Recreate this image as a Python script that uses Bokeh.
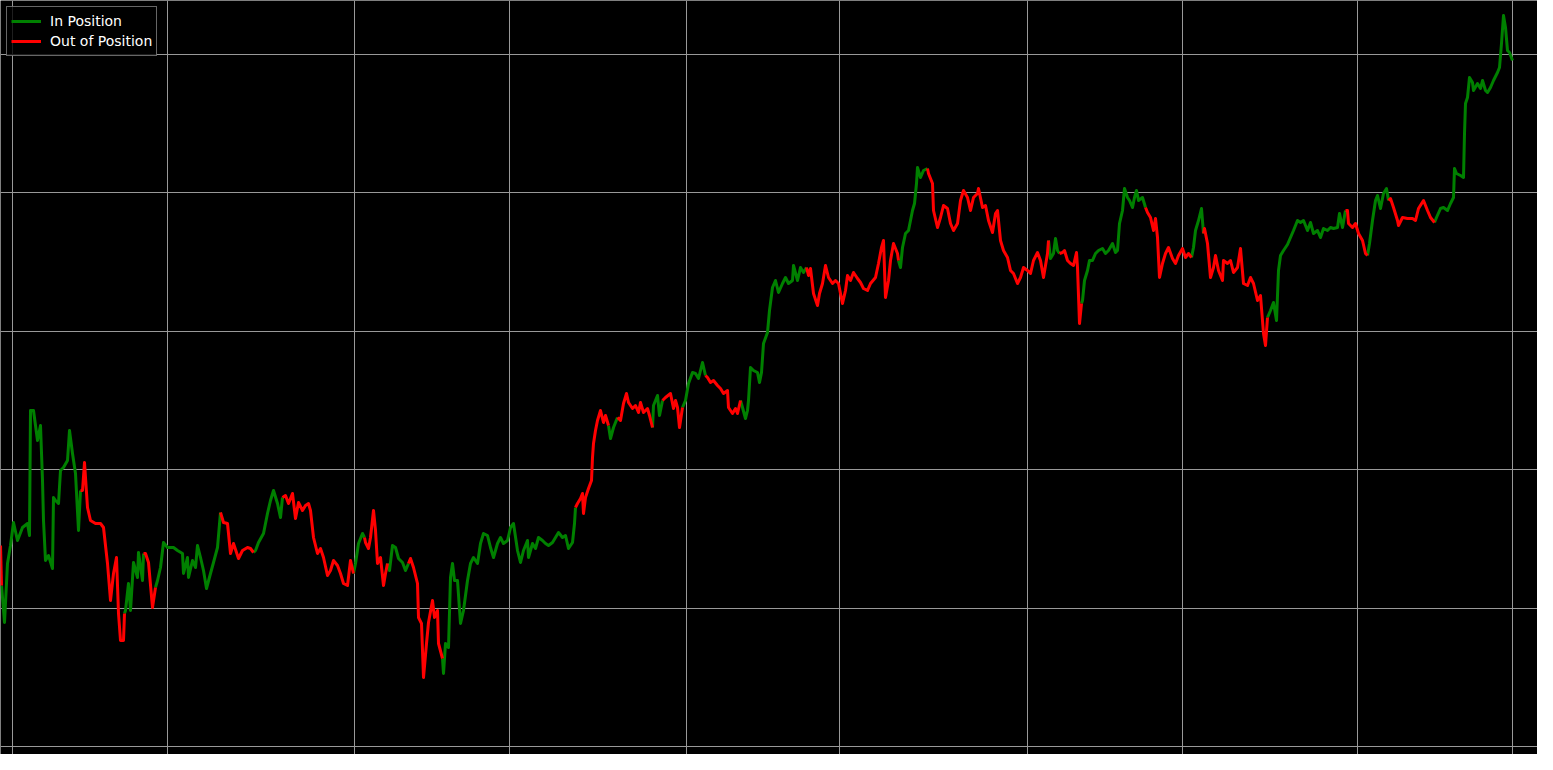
from bokeh.plotting import figure
from bokeh.models import ColumnDataSource, Range1d, FixedTicker
from bokeh.embed import file_html
from bokeh.resources import INLINE

# time index and price
t = [0, 1, 2, 4, 7, 10, 13, 17, 22, 27, 29, 30, 33, 37, 40, 42, 43, 45, 48, 52, 53, 55, 58, 60, 63, 67, 69, 72, 75, 78, 80,
     82, 84, 87, 90, 95, 100, 103, 107, 110, 113, 116, 118, 120, 123, 124,
     125, 128, 130, 133, 137, 138, 142, 143,
     145, 148, 152, 155,
     157, 160, 163, 167, 173, 177, 182, 183, 187, 188, 192, 195, 197, 200, 203, 206, 210, 213, 217, 220,
     223, 227, 230, 233, 238, 242, 247, 250, 253,
     255, 258, 263, 267, 270, 273, 277, 280, 282,
     285, 288, 292, 295, 298, 302, 305, 308, 310, 313, 317, 320, 323, 327, 330, 333, 337, 340, 343, 347, 350, 353,
     355, 358, 362, 364,
     365, 368, 370, 373, 375, 377, 380, 383, 385, 387,
     389, 392, 395, 398, 402, 405, 408,
     410, 413, 417, 418, 421, 423, 426, 428, 432, 434, 437, 438, 442,
     443, 445, 448, 450, 452, 454, 457, 460, 463, 467, 470, 473, 477, 480, 483, 487, 490, 493, 497, 500, 503, 507,
     510, 513, 517, 520, 523, 527, 528, 532, 535, 538, 542, 545, 548, 552, 555, 558, 562, 565, 568, 572, 574, 575,
     577, 580, 582, 583, 585, 588, 591, 592, 593, 595, 597, 600, 603, 605, 608,
     610, 613, 617,
     620, 623, 626, 628, 632, 635, 638, 640, 643, 647, 649, 652,
     653, 657, 659, 662,
     665, 670, 673, 675, 677, 679, 682,
     685, 688, 692, 695, 698, 702, 705,
     707, 710, 713, 717, 720, 723, 727, 728, 732, 735, 737, 740,
     742, 745, 747, 748, 750, 753, 757, 759, 761, 763, 767, 769, 772, 775, 778, 782, 785, 788, 792, 793, 797, 800, 803, 806,
     808, 810, 813, 817, 819, 822, 825, 828, 832, 835, 838, 842, 845, 847, 850, 853, 857, 860, 863, 867, 870, 875, 878,
     881, 883, 885, 888, 890, 893, 897, 898,
     900, 902, 905, 908, 912, 914, 916, 917, 920, 923, 927,
     928, 932, 933, 937, 940, 943, 947, 950, 953, 957, 960, 963, 967, 970, 973, 977, 978, 982, 985, 988, 992, 995, 997,
     1000, 1003, 1007, 1010, 1013, 1017, 1020, 1023, 1027, 1030, 1033, 1037, 1040, 1043, 1047, 1048,
     1050, 1053, 1055, 1057, 1059,
     1062, 1064, 1067, 1070, 1073, 1076, 1077, 1079, 1081,
     1082, 1084, 1087, 1089, 1092, 1095, 1098, 1102, 1105, 1108, 1112, 1115, 1117, 1119, 1122, 1124, 1127, 1129, 1132,
     1134, 1136, 1138, 1142, 1145,
     1147, 1150, 1153, 1155, 1157, 1159, 1162, 1165, 1168, 1172, 1175, 1178, 1182, 1185, 1188, 1191,
     1193, 1195, 1198, 1201, 1203,
     1204, 1207, 1210, 1213, 1215, 1218, 1222, 1223, 1227, 1230, 1233, 1237, 1240, 1243, 1247, 1250, 1253, 1257, 1260,
     1263, 1265, 1267,
     1270, 1273, 1276, 1278, 1280, 1283, 1287, 1290, 1293, 1297, 1300, 1303, 1307, 1310, 1313, 1317, 1320, 1323, 1327,
     1330, 1333, 1337, 1339, 1342, 1345,
     1347, 1348, 1352, 1355, 1358, 1362, 1365, 1367,
     1369, 1372, 1375, 1377, 1380, 1383, 1386, 1388,
     1390, 1393, 1397, 1398, 1402, 1407, 1412, 1415, 1418, 1423, 1427, 1430, 1434,
     1436, 1440, 1443, 1447, 1450, 1453, 1454, 1456, 1460, 1463, 1464, 1465, 1467, 1469, 1472, 1473, 1477, 1480, 1482,
     1485, 1487, 1490, 1493, 1497, 1499, 1501, 1503, 1505, 1507, 1509, 1512]

price = [455, 415, 403, 378, 437, 455, 478, 460, 473, 477, 465, 590, 590, 560, 575, 520, 480, 440, 445, 432, 503, 500, 497, 530, 533, 540, 570, 547, 527, 470, 510,
         510, 538, 493, 480, 477, 477, 473, 437, 400, 427, 443, 387, 360, 360, 387,
         390, 417, 390, 438, 423, 448, 420, 447,
         447, 438, 393, 413,
         420, 433, 458, 453, 453, 450, 447, 427, 443, 423, 440, 433, 455, 443, 430, 412, 427, 438, 453, 488,
         478, 477, 447, 457, 442, 450, 453, 452, 448,
         450, 458, 467, 487, 500, 510, 497, 483, 503,
         505, 497, 507, 482, 498, 490, 495, 497, 490, 463, 447, 452, 443, 425, 430, 440, 435, 427, 417, 415, 440, 427,
         437, 457, 467, 463,
         458, 452, 463, 490, 470, 437, 443, 415, 427, 437,
         430, 455, 453, 442, 438, 430, 437,
         442, 433, 417, 383, 377, 323, 357, 378, 400, 383, 390, 357, 342,
         327, 357, 353, 423, 437, 420, 420, 377, 390, 420, 437, 443, 437, 457, 467, 465, 453, 443, 457, 463, 457, 460,
         473, 477, 450, 438, 450, 460, 443, 457, 452, 463, 460, 457, 455, 458, 463, 468, 463, 465, 452, 458, 477, 493,
         497, 502, 507, 487, 503, 512, 520, 543, 557, 570, 580, 590, 578, 585, 575,
         562, 573, 583,
         580, 597, 607, 598, 592, 595, 588, 598, 588, 592, 585, 573,
         595, 605, 585, 600,
         603, 607, 592, 600, 593, 573, 593,
         600, 617, 628, 627, 622, 638, 625,
         623, 618, 620, 615, 612, 607, 610, 593, 587, 592, 587, 600,
         593, 582, 590, 600, 633, 630, 628, 618, 628, 657, 668, 690, 713, 720, 708, 717, 723, 717, 720, 735, 720, 733, 728, 733,
         725, 732, 707, 695, 707, 717, 735, 723, 717, 720, 717, 697, 710, 725, 720, 728, 722, 718, 712, 710, 717, 723, 737,
         753, 760, 703, 720, 740, 757, 747, 740,
         733, 753, 767, 770, 790, 797, 817, 833, 823, 830, 832,
         827, 817, 790, 773, 783, 795, 792, 777, 770, 777, 800, 810, 803, 790, 803, 807, 812, 793, 795, 780, 768, 787, 790,
         760, 750, 743, 730, 727, 717, 723, 733, 730, 727, 740, 748, 740, 723, 747, 760,
         742, 747, 762, 750, 747,
         748, 750, 740, 737, 735, 748, 733, 677, 697,
         700, 720, 730, 740, 740, 747, 750, 752, 747, 750, 757, 748, 750, 777, 790, 812, 803, 800, 793,
         803, 810, 800, 803, 793,
         788, 783, 770, 782, 763, 723, 737, 747, 753, 742, 737, 745, 752, 743, 747, 743,
         753, 770, 780, 792, 767,
         772, 757, 723, 733, 745, 730, 720, 740, 737, 740, 728, 733, 752, 717, 715, 723, 717, 700, 705,
         667, 655, 683,
         690, 698, 680, 730, 745, 750, 756, 763, 770, 780, 778, 780, 770, 778, 767, 770, 763, 772, 770,
         773, 772, 773, 787, 773, 790,
         790, 777, 773, 777, 767, 760, 747, 745,
         757, 780, 800, 805, 792, 807, 812, 800,
         802, 793, 780, 775, 783, 782, 782, 780, 792, 800, 790, 783, 778,
         783, 792, 793, 790, 797, 803, 832, 827, 825, 823, 867, 897, 903, 923, 918, 910, 917, 912, 920,
         910, 908, 913, 920, 928, 933, 957, 985, 973, 950, 948, 940]

# position changes (time index where the state switches), starts out of position
entries = [2, 125, 157, 255, 355, 389, 443, 610, 653, 685, 742, 900, 1050, 1082, 1193, 1270, 1369, 1436]
exits = [82, 145, 223, 285, 365, 410, 577, 620, 665, 707, 808, 928, 1062, 1147, 1204, 1347, 1390]

# grid positions
x_ticks = [12.3, 167, 354.3, 508.7, 685.7, 839.3, 1026.7, 1181.7, 1357.3, 1511.5]
y_ticks = [254, 392.5, 531, 669.5, 807.7, 946.3]

# work out in/out of position for every point
events = sorted([(e, True) for e in entries] + [(e, False) for e in exits])
state = []
for ti in t:
    s = False
    for et, flag in events:
        if et <= ti:
            s = flag
    state.append(s)

# split into runs of one colour, each run joined to the previous point
runs = {True: ([], []), False: ([], [])}
cur_x, cur_y = [t[0]], [price[0]]
cur_s = state[0]
for i in range(1, len(t)):
    if state[i] != cur_s:
        runs[cur_s][0].append(cur_x)
        runs[cur_s][1].append(cur_y)
        cur_x, cur_y = [t[i - 1]], [price[i - 1]]
        cur_s = state[i]
    cur_x.append(t[i])
    cur_y.append(price[i])
runs[cur_s][0].append(cur_x)
runs[cur_s][1].append(cur_y)

in_src = ColumnDataSource(data=dict(xs=runs[True][0], ys=runs[True][1]))
out_src = ColumnDataSource(data=dict(xs=runs[False][0], ys=runs[False][1]))

p = figure(width=1537, height=754, output_backend="svg", toolbar_location=None,
           x_range=Range1d(0, 1537), y_range=Range1d(246, 1000),
           x_axis_location=None, y_axis_location=None, min_border=0)
p.background_fill_color = "black"
p.border_fill_color = "black"
p.outline_line_color = None

p.xgrid.ticker = FixedTicker(ticks=x_ticks)
p.ygrid.ticker = FixedTicker(ticks=y_ticks)
p.grid.grid_line_color = "#999999"
p.grid.grid_line_width = 1

p.multi_line('xs', 'ys', source=in_src, line_color="#008000", line_width=3,
             line_join="round", legend_label="In Position")
p.multi_line('xs', 'ys', source=out_src, line_color="#ff0000", line_width=3,
             line_join="round", legend_label="Out of Position")

p.legend.location = "top_left"
p.legend.margin = 6
p.legend.padding = 4
p.legend.spacing = 0
p.legend.glyph_width = 30
p.legend.glyph_height = 20
p.legend.label_standoff = 9
p.legend.label_text_color = "white"
p.legend.label_text_font = "DejaVu Sans"
p.legend.label_text_font_size = "14px"
p.legend.background_fill_color = "black"
p.legend.background_fill_alpha = 0.8
p.legend.border_line_color = "#cccccc"
p.legend.border_line_width = 1

open("out.html", "w").write(file_html(p, INLINE))
